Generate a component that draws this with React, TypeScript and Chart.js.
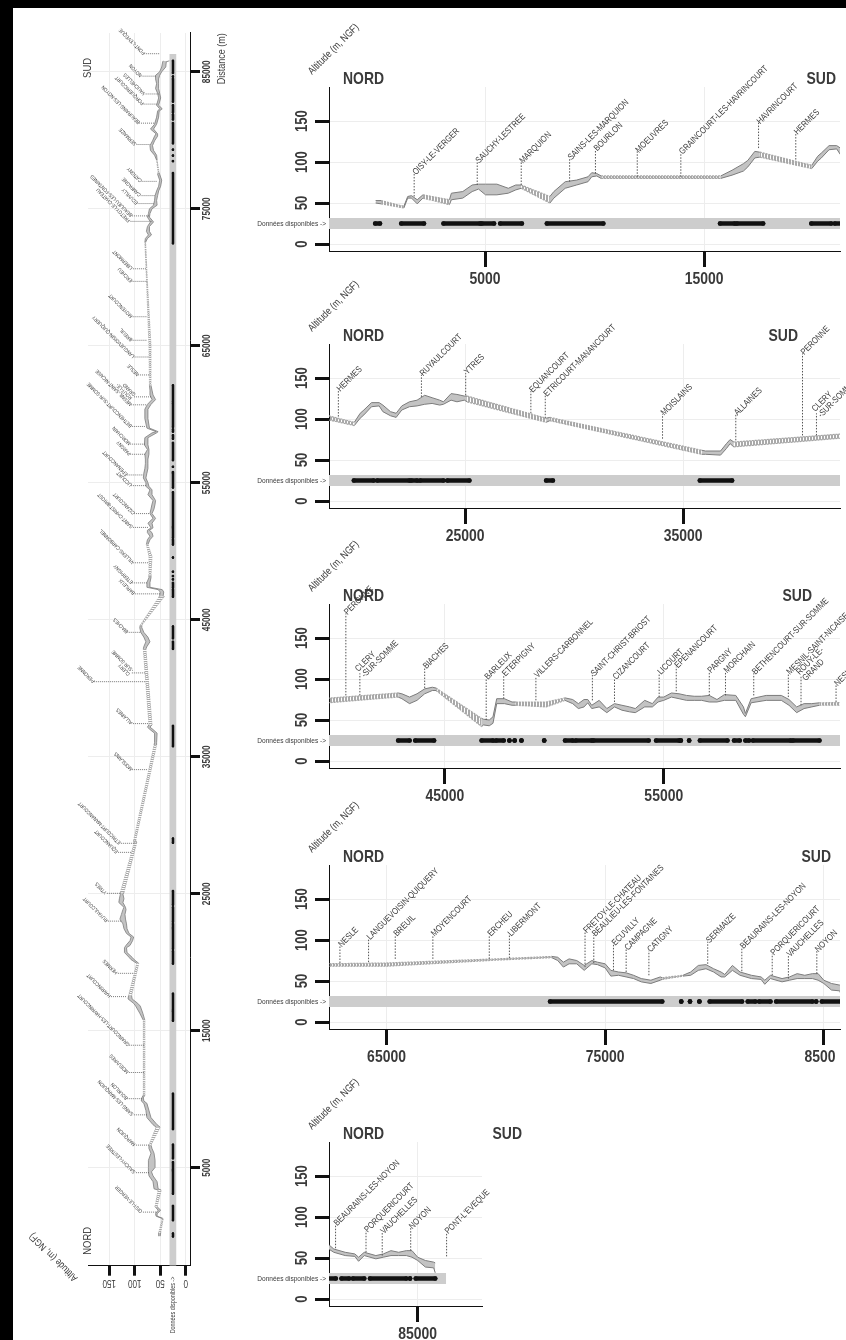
import React, { useEffect, useRef } from 'react';
import { Chart, registerables } from 'chart.js';

Chart.register(...registerables);

// ---------------- DATA ----------------
// Profil en long : distance (m), altitude basse / haute (m NGF), nature du tronçon partant du point
// 'M' = données mesurées, 'I' = tronçon interpolé (hachuré)
const profileDist = [
  0, 250, 1290, 1465, 1640, 1900, 2160, 3370, 3460, 3980, 4410, 4700, 5020, 5540, 6060, 6400, 6650, 7960, 8140, 8660, 9180, 9700, 9870, 10100, 10300,
  15760, 16280, 16800, 17000, 17320, 17550, 19920, 20190, 20360, 20710, 21060, 21230, 21580, 21840, 22100, 22450, 22800, 23150, 23490, 23840, 24010, 24360, 24630, 24970, 25100,
  28720, 28890, 35850, 36030, 36720, 36990, 37160, 37330, 42870, 43040, 43390, 43730, 44080, 44430, 44600,
  46680, 46770, 47030, 47200, 47370, 47720, 48070, 48240, 49630, 50490,
  50840, 51100, 51360, 51530, 51710, 52050, 52400, 52750, 53090, 53440, 53700, 54130, 54480, 54740, 55000, 55350, 55700, 56040, 56390, 56730, 57080, 57430, 57770, 58290, 58640, 58730, 58990, 59680, 60370, 60720, 61070, 61410, 61760, 62110,
  65000, 70000, 72560, 72830, 73090, 73350, 73700, 74040, 74390, 74650, 75000, 75260, 75610, 75960, 76300, 76650, 77090, 77520, 77610,
  78560, 78910, 79260, 79610, 79960, 80300, 80470, 80820, 81170, 81690, 82130, 82300, 82560, 83090, 83430, 83780, 84130, 84480, 84740, 85000, 85350, 85730, 85800,
];
const profileLow = [
  50, 49, 44, 56, 56, 49, 56, 48, 54, 56, 64, 67, 60, 60, 62, 66, 68, 50, 56, 68, 72, 76, 82, 83, 80,
  80, 84, 89, 94, 105, 106, 92, 101, 105, 115, 116, 109, 104, 102, 111, 115, 116, 118, 119, 117, 118, 123, 121, 123, 121,
  96, 98, 57, 57, 56, 64, 70, 66, 78, 76, 70, 74, 82, 86, 86,
  42, 44, 43, 46, 70, 70, 68, 68, 66, 74,
  70, 64, 66, 71, 64, 66, 59, 66, 62, 60, 59, 66, 66, 72, 74, 78, 76, 74, 74, 74, 72, 72, 74, 74, 57, 54, 71, 74, 74, 68, 59, 64, 66, 68,
  68, 75.5, 78.5, 75, 67, 71, 71, 63, 71, 70, 66, 56, 57, 55, 53, 49, 47, 51, 52,
  56, 57, 63, 65, 61, 55, 55, 63, 57, 53, 52, 46, 53, 49, 51, 53, 53, 53, 51, 47, 39, 38, 32,
];
const profileHigh = [
  53, 53, 46, 58, 59, 54, 60, 54, 62, 64, 72, 73, 73, 73, 68, 72, 72, 58, 64, 76, 78, 82, 87, 86, 83,
  83, 90, 98, 102, 113, 112, 96, 107, 111, 120, 120, 117, 109, 107, 116, 121, 123, 129, 126, 123, 121, 131, 130, 128, 128,
  101, 102, 62, 61, 61, 70, 75, 72, 83, 82, 78, 82, 88, 90, 89,
  52, 51, 50, 54, 76, 76, 72, 72, 72, 77,
  75, 70, 75, 75, 68, 74, 64, 70, 68, 66, 64, 74, 70, 78, 78, 83, 82, 80, 79, 79, 80, 75, 81, 80, 66, 58, 76, 80, 80, 75, 66, 70, 70, 71,
  72, 77, 80, 79, 73, 77, 75, 69, 75, 73, 71, 63, 61, 60, 57, 53, 51, 55, 54,
  57, 61, 69, 70, 65, 61, 58, 69, 61, 57, 55, 51, 57, 53, 55, 59, 57, 59, 59, 51, 47, 45, 44,
];
const profileKind = [
  'M', 'I', 'M', 'M', 'M', 'M', 'I', 'M', 'M', 'M', 'M', 'M', 'M', 'M', 'M', 'M', 'I', 'M', 'M', 'M', 'M', 'M', 'M', 'M', 'I',
  'M', 'M', 'M', 'M', 'M', 'I', 'M', 'M', 'M', 'M', 'M', 'M', 'M', 'M', 'M', 'M', 'M', 'M', 'M', 'M', 'M', 'M', 'M', 'M', 'I',
  'M', 'I', 'M', 'M', 'M', 'M', 'M', 'I', 'M', 'M', 'M', 'M', 'M', 'M', 'I',
  'M', 'M', 'M', 'M', 'M', 'M', 'M', 'I', 'I', 'M',
  'M', 'M', 'M', 'M', 'M', 'M', 'M', 'M', 'M', 'M', 'M', 'M', 'M', 'M', 'M', 'M', 'M', 'M', 'M', 'M', 'M', 'M', 'M', 'M', 'M', 'M', 'M', 'M', 'M', 'M', 'M', 'M', 'M', 'I',
  'I', 'I', 'M', 'M', 'M', 'M', 'M', 'M', 'M', 'M', 'M', 'M', 'M', 'M', 'M', 'M', 'M', 'M', 'I',
  'M', 'M', 'M', 'M', 'M', 'M', 'M', 'M', 'M', 'M', 'M', 'M', 'M', 'M', 'M', 'M', 'M', 'M', 'M', 'M', 'M', 'M', 'M',
];

// Communes traversées
const townNames = [
  'OISY-LE-VERGER', 'SAUCHY-LESTREE', 'MARQUION', 'SAINS-LES-MARQUION', 'BOURLON', 'MOEUVRES',
  'GRAINCOURT-LES-HAVRINCOURT', 'HAVRINCOURT', 'HERMES', 'RUYAULCOURT', 'YTRES', 'EQUANCOURT',
  'ETRICOURT-MANANCOURT', 'MOISLAINS', 'ALLAINES', 'PERONNE', 'CLERY\n-SUR-SOMME', 'BIACHES',
  'BARLEUX', 'ETERPIGNY', 'VILLERS-CARBONNEL', 'SAINT-CHRIST-BRIOST', 'CIZANCOURT', 'LICOURT',
  'EPENANCOURT', 'PARGNY', 'MORCHAIN', 'BETHENCOURT-SUR-SOMME', 'MESNIL-SAINT-NICAISE', 'ROUY-LE-\nGRAND',
  'NESLE', 'LANGUEVOISIN-QUIQUERY', 'BREUIL', 'MOYENCOURT', 'ERCHEU', 'LIBERMONT',
  'FRETOY-LE-CHATEAU', 'BEAULIEU-LES-FONTAINES', 'ECUVILLY', 'CAMPAGNE', 'CATIGNY', 'SERMAIZE',
  'BEAURAINS-LES-NOYON', 'PORQUERICOURT', 'VAUCHELLES', 'NOYON', "PONT-L'EVEQUE",
];
const townDist = [
  1760, 4640, 6650, 8860, 10040, 11950,
  13940, 17490, 19190, 23000, 25030, 28020,
  28680, 34060, 37420, 40480, 41120, 44080,
  46890, 47690, 49160, 51740, 52750, 54790,
  55570, 57080, 57820, 59110, 60690, 61270,
  62870, 64180, 65400, 67120, 69700, 70620,
  74080, 74480, 75380, 75960, 77000, 79690,
  81250, 82640, 83380, 84680, 86320,
];
const townGround = [
  58, 72, 72, 76, 86, 82,
  82, 117, 103, 127, 129, 107,
  101, 76, 74, 80, 80, 89,
  50, 76, 74, 74, 72, 78,
  85, 80, 80, 80, 78, 68,
  72, 73, 77, 77, 77, 78,
  67, 72, 63, 61, 57, 71,
  62, 57, 53, 59, 52,
];
const townLabelAlt = [
  86, 100, 100, 104, 115, 113,
  111, 148, 135, 154, 156, 134,
  129, 106, 106, 180, 107, 114,
  101, 105, 103, 105, 101, 107,
  115, 109, 109, 107, 107, 103,
  93, 102, 106, 106, 106, 106,
  110, 106, 95, 89, 87, 98,
  91, 83, 81, 87, 81,
];

// Données disponibles (plages de distance couvertes)
const availStart = [
  -20, 1170, 3100, 4850, 5690, 7820, 15730, 16500, 19900, 20970, 22540, 22940, 24190, 28720, 35770,
  42870, 43650, 46680, 47340, 47950, 48190, 48500, 49540, 50490, 50980, 51790, 54650, 55780, 56160,
  56650, 58210, 58730, 59070, 60900, 72480, 78480, 78880, 79310, 79780, 81520, 82040, 82820, 84650, 84910,
];
const availEnd = [
  200, 2210, 4770, 5410, 6680, 10400, 16400, 17700, 20810, 22450, 22800, 24010, 25200, 29030, 37250,
  43390, 44510, 47200, 47690, 47950, 48190, 48500, 49540, 50840, 51710, 54310, 55700, 55780, 56160,
  57910, 58470, 58900, 60800, 62110, 77610, 78480, 78880, 79310, 81260, 81870, 82560, 84480, 84650, 85800,
];

const bandExtent = [-2200, 86300];
const bandAlt = [18.3, 31.7];
const dotAlt = 25;

const xTickValues = [5000, 15000, 25000, 35000, 45000, 55000, 65000, 75000, 85000];
const yTickValues = [0, 50, 100, 150];

const panelMin = [-2130, 18760, 39710, 62370, 80950];
const panelMax = [21210, 42200, 63050, 85740, 87936];
const overviewRange = [-2153, 87830];
const altRange = [-8.5, 191.5];

// ---------------- STYLE / LAYOUT ----------------
const FF = "'Liberation Sans', Arial, sans-serif";
const SQ = 0.82; // compression horizontale (police étroite)
const TXT = '#3a3a3a';

type Cfg = {
  key: string;
  left: number; top: number; w: number; h: number; rotate?: boolean;
  min: number; max: number;
  pad: { left: number; top: number; right: number; bottom: number };
  yW: number; xH: number;
  xFont: string; xLen: number; xLabDy: number;
  yFont: string; yLen: number; yLabDx: number; tickW: number;
  nordFont: string; nordDx: number; nordDy: number; sudDx: number;
  altFont: string; altDx: number; altDy: number;
  dispoFont: string; dispoGap: number;
  townFont: string; townLh: number;
  edge: number; hatchEdge: number; hatchDash: number[]; leadW: number; leadDash: number[];
  availW: number; dotR: number; hatchPeriod: number; hatchOn: number;
  distFont?: string;
};

function makeHatch(period: number, on: number, color: string) {
  const c = document.createElement('canvas');
  c.width = period; c.height = period;
  const g = c.getContext('2d')!;
  g.fillStyle = color;
  g.fillRect(0, 0, on, period);
  return g.createPattern(c, 'repeat')!;
}

function txt(ctx: any, s: string, x: number, y: number, font: string, angle: number, align: string, base: string, dy = 0) {
  ctx.save();
  ctx.translate(x, y);
  if (angle) ctx.rotate(angle);
  ctx.scale(SQ, 1);
  ctx.font = font;
  ctx.textAlign = align;
  ctx.textBaseline = base;
  ctx.fillText(s, 0, dy);
  ctx.restore();
}

function buildDatasets(cfg: Cfg) {
  const hatch = makeHatch(cfg.hatchPeriod, cfg.hatchOn, '#a9a9a9');
  const ds: any[] = [];
  ds.push({
    data: [{ x: bandExtent[0], y: bandAlt[1] }, { x: bandExtent[1], y: bandAlt[1] }],
    borderWidth: 0, borderColor: 'rgba(0,0,0,0)', pointRadius: 0,
    backgroundColor: '#cdcdcd', fill: { value: bandAlt[0] }, order: 100,
  });
  const n = profileDist.length;
  let i = 0;
  while (i < n - 1) {
    const k = profileKind[i];
    let j = i;
    while (j < n - 1 && profileKind[j] === k) j++;
    const low: any[] = [];
    const high: any[] = [];
    for (let m = i; m <= j; m++) {
      low.push({ x: profileDist[m], y: profileLow[m] });
      high.push({ x: profileDist[m], y: profileHigh[m] });
    }
    const meas = k === 'M';
    const common = {
      borderColor: meas ? '#7c7c7c' : '#a5a5a5',
      borderWidth: meas ? cfg.edge : cfg.hatchEdge,
      borderDash: meas ? [] : cfg.hatchDash,
      pointRadius: 0, order: 50,
    };
    ds.push({ ...common, data: low, fill: false });
    ds.push({ ...common, data: high, fill: '-1', backgroundColor: meas ? '#c3c3c3' : hatch });
    i = j;
  }
  const lead: any[] = [];
  townDist.forEach((d, t) => {
    lead.push({ x: d, y: townGround[t] }, { x: d, y: townLabelAlt[t] }, { x: d, y: null });
  });
  ds.push({
    data: lead, borderColor: '#555', borderWidth: cfg.leadW, borderDash: cfg.leadDash,
    pointRadius: 0, spanGaps: false, fill: false, order: 10,
  });
  const av: any[] = [];
  availStart.forEach((s, t) => {
    av.push({ x: s, y: dotAlt }, { x: availEnd[t], y: dotAlt }, { x: availEnd[t], y: null });
  });
  ds.push({
    data: av, borderColor: '#111', borderWidth: cfg.availW, borderCapStyle: 'round',
    pointRadius: cfg.dotR, pointBackgroundColor: '#111', pointBorderWidth: 0,
    spanGaps: false, fill: false, order: 0,
  });
  return ds;
}

function textPlugin(cfg: Cfg) {
  return {
    id: 'texts-' + cfg.key,
    afterDraw(chart: any) {
      const { ctx, chartArea: ca } = chart;
      const x = chart.scales.x;
      const y = chart.scales.y;
      ctx.save();
      ctx.fillStyle = TXT;
      // étiquettes des graduations (via les échelles)
      x.ticks.forEach((t: any) => {
        txt(ctx, String(t.value), x.getPixelForValue(t.value), ca.bottom + cfg.xLabDy, cfg.xFont, 0, 'center', 'middle');
      });
      y.ticks.forEach((t: any) => {
        txt(ctx, String(t.value), ca.left - cfg.yLabDx, y.getPixelForValue(t.value), cfg.yFont, -Math.PI / 2, 'center', 'middle');
      });
      // NORD / SUD
      txt(ctx, 'NORD', ca.left + cfg.nordDx, ca.top + cfg.nordDy, cfg.nordFont, 0, 'left', 'alphabetic');
      txt(ctx, 'SUD', ca.right + cfg.sudDx, ca.top + cfg.nordDy, cfg.nordFont, 0, 'right', 'alphabetic');
      // titre d'axe
      txt(ctx, 'Altitude (m, NGF)', ca.left + cfg.altDx, ca.top + cfg.altDy, cfg.altFont, -Math.PI / 4, 'left', 'alphabetic');
      // Données disponibles
      txt(ctx, 'Données disponibles ->', ca.left - cfg.dispoGap, y.getPixelForValue((bandAlt[0] + bandAlt[1]) / 2), cfg.dispoFont, 0, 'right', 'middle');
      // Distance (m)
      if (cfg.distFont) {
        txt(ctx, 'Distance (m)', x.getPixelForValue(85000) + 13, ca.bottom + 32, cfg.distFont, 0, 'center', 'middle');
      }
      // communes
      townNames.forEach((name, t) => {
        const d = townDist[t];
        if (d < x.min || d > x.max) return;
        const px = x.getPixelForValue(d);
        const py = y.getPixelForValue(townLabelAlt[t]);
        const lines = name.split('\n');
        lines.forEach((ln, li) => {
          txt(ctx, ln, px, py, cfg.townFont, -Math.PI / 4, 'left', 'middle', (li - (lines.length - 1) / 2) * cfg.townLh);
        });
      });
      ctx.restore();
    },
  };
}

function buildConfig(cfg: Cfg): any {
  return {
    type: 'line',
    data: { datasets: buildDatasets(cfg) },
    options: {
      responsive: false,
      animation: false,
      events: [],
      layout: { padding: cfg.pad },
      elements: { line: { tension: 0 }, point: { radius: 0 } },
      plugins: { legend: { display: false }, tooltip: { enabled: false }, title: { display: false } },
      scales: {
        x: {
          type: 'linear', min: cfg.min, max: cfg.max,
          afterBuildTicks: (s: any) => {
            s.ticks = xTickValues.filter((v) => v >= s.min && v <= s.max).map((v) => ({ value: v }));
          },
          afterFit: (s: any) => { s.height = cfg.xH; },
          grid: { color: '#ededed', lineWidth: 1, tickLength: cfg.xLen, tickWidth: cfg.tickW, tickColor: '#111', drawOnChartArea: true },
          border: { display: true, color: '#111', width: 1 },
          ticks: { display: false, autoSkip: false },
        },
        y: {
          type: 'linear', min: altRange[0], max: altRange[1],
          afterBuildTicks: (s: any) => { s.ticks = yTickValues.map((v) => ({ value: v })); },
          afterFit: (s: any) => { s.width = cfg.yW; },
          grid: { color: '#ededed', lineWidth: 1, tickLength: cfg.yLen, tickWidth: cfg.tickW, tickColor: '#111', drawOnChartArea: true },
          border: { display: true, color: '#111', width: 1 },
          ticks: { display: false, autoSkip: false },
        },
      },
    },
    plugins: [textPlugin(cfg)],
  };
}

const panelTops = [0, 257, 517, 778, 1055];
const sudOffsets = [-4, -42, -28, -9, 40];

const rightPanels: Cfg[] = panelMin.map((mn, k) => {
  const right = k < 4 ? 600 : 242; // bord droit de la zone de tracé dans le canvas
  return {
    key: 'p' + k,
    left: 240, top: panelTops[k], w: 630, h: 300,
    min: mn, max: panelMax[k],
    pad: { left: 0, top: 87, right: 630 - right, bottom: 0 },
    yW: 89, xH: 49,
    xFont: 'bold 17px ' + FF, xLen: 16, xLabDy: 28,
    yFont: 'bold 16px ' + FF, yLen: 14, yLabDx: 26, tickW: 3,
    nordFont: 'bold 17px ' + FF, nordDx: 14, nordDy: -3, sudDx: sudOffsets[k],
    altFont: '10.5px ' + FF, altDx: -17, altDy: -12,
    dispoFont: '8px ' + FF, dispoGap: 3,
    townFont: '9px ' + FF, townLh: 8.5,
    edge: 1, hatchEdge: 1.2, hatchDash: [2, 1], leadW: 1, leadDash: [1.5, 1.5],
    availW: 4.5, dotR: 2.3, hatchPeriod: 3, hatchOn: 2,
  };
});

const overview: Cfg = {
  key: 'ov',
  left: 13, top: 1340, w: 1332, h: 237, rotate: true,
  min: overviewRange[0], max: overviewRange[1],
  pad: { left: 0, top: 75, right: 25, bottom: 0 },
  yW: 74.3, xH: 60,
  xFont: 'bold 10px ' + FF, xLen: 10, xLabDy: 17.7,
  yFont: '10px ' + FF, yLen: 10, yLabDx: 17.3, tickW: 3,
  nordFont: '11.5px ' + FF, nordDx: 11, nordDy: 3, sudDx: -25,
  altFont: '10px ' + FF, altDx: -12, altDy: -10,
  dispoFont: '6.6px ' + FF, dispoGap: 11,
  townFont: '5.3px ' + FF, townLh: 5,
  edge: 0.8, hatchEdge: 0.8, hatchDash: [1.5, 1], leadW: 0.8, leadDash: [1, 1],
  availW: 2.5, dotR: 1.2, hatchPeriod: 2, hatchOn: 1,
  distFont: '11px ' + FF,
};

function ProfileChart({ cfg }: { cfg: Cfg }) {
  const ref = useRef<HTMLCanvasElement>(null);
  useEffect(() => {
    const chart = new Chart(ref.current!, buildConfig(cfg));
    return () => chart.destroy();
  }, [cfg]);
  const style: React.CSSProperties = {
    position: 'absolute', left: cfg.left, top: cfg.top, width: cfg.w, height: cfg.h,
  };
  if (cfg.rotate) {
    style.transformOrigin = '0 0';
    style.transform = 'rotate(-90deg)';
  }
  return <canvas ref={ref} width={cfg.w} height={cfg.h} style={style} />;
}

export default function App() {
  return (
    <div style={{ position: 'fixed', left: 0, top: 0, width: 846, height: 1340, overflow: 'hidden', background: '#000' }}>
      <div style={{ position: 'absolute', left: 13, top: 8, width: 833, height: 1332, background: '#fff' }} />
      <ProfileChart cfg={overview} />
      {rightPanels.map((p) => <ProfileChart key={p.key} cfg={p} />)}
      <div style={{ position: 'absolute', left: 836, top: 1042, width: 10, height: 30, background: '#fff' }} />
    </div>
  );
}
